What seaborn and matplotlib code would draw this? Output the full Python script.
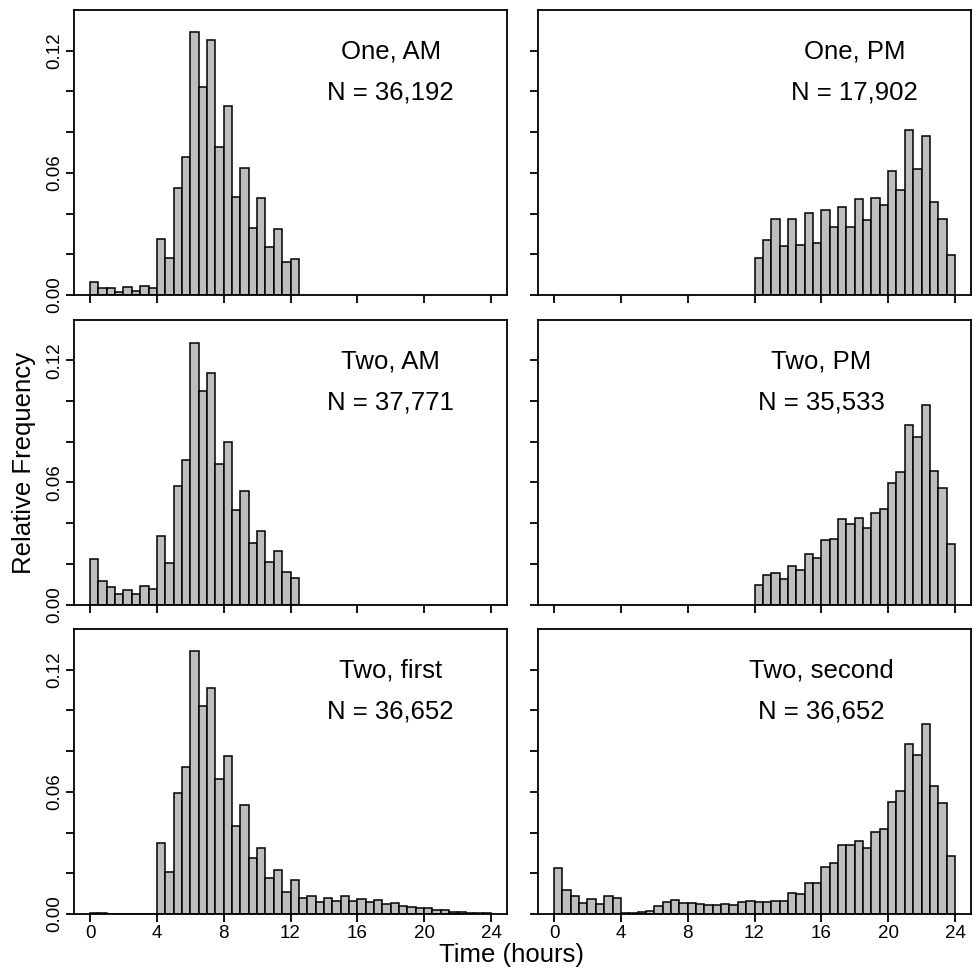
import numpy as np
import pandas as pd
import matplotlib
matplotlib.use("Agg")
import matplotlib.pyplot as plt
import seaborn as sns

# ---------------- data (relative frequency per half-hour bin) ----------------
panel_titles = ["One, AM", "One, PM", "Two, AM", "Two, PM", "Two, first", "Two, second"]
panel_n = ["N = 36,192", "N = 17,902", "N = 37,771", "N = 35,533", "N = 36,652", "N = 36,652"]
panel_start = [0.0, 12.0, 0.0, 12.0, 0.0, 0.0]   # first bin edge (hours)
bin_width = 0.5

one_am = [0.0066, 0.0033, 0.0033, 0.0016, 0.0038, 0.0021, 0.0044, 0.0034,
          0.0277, 0.0180, 0.0528, 0.0679, 0.1292, 0.1020, 0.1252, 0.0728,
          0.0926, 0.0480, 0.0626, 0.0331, 0.0475, 0.0234, 0.0325, 0.0164, 0.0179]
one_pm = [0.0184, 0.0270, 0.0375, 0.0239, 0.0372, 0.0244, 0.0402, 0.0257,
          0.0418, 0.0334, 0.0430, 0.0336, 0.0472, 0.0370, 0.0475, 0.0444,
          0.0608, 0.0516, 0.0810, 0.0618, 0.0780, 0.0456, 0.0374, 0.0198]
two_am = [0.0223, 0.0115, 0.0087, 0.0051, 0.0069, 0.0051, 0.0089, 0.0074,
          0.0338, 0.0202, 0.0584, 0.0710, 0.1284, 0.1049, 0.1139, 0.0690,
          0.0798, 0.0466, 0.0557, 0.0302, 0.0362, 0.0211, 0.0264, 0.0162, 0.0128]
two_pm = [0.0098, 0.0143, 0.0156, 0.0123, 0.0190, 0.0170, 0.0246, 0.0228,
          0.0316, 0.0321, 0.0420, 0.0395, 0.0425, 0.0374, 0.0451, 0.0467,
          0.0598, 0.0649, 0.0884, 0.0823, 0.0980, 0.0656, 0.0570, 0.0297]
two_first = [0.0003, 0.0003, 0.0001, 0.0000, 0.0002, 0.0002, 0.0002, 0.0002,
             0.0349, 0.0208, 0.0595, 0.0723, 0.1292, 0.1023, 0.1108, 0.0662,
             0.0775, 0.0433, 0.0534, 0.0274, 0.0326, 0.0175, 0.0215, 0.0107,
             0.0167, 0.0080, 0.0089, 0.0059, 0.0080, 0.0066, 0.0087, 0.0066,
             0.0072, 0.0057, 0.0067, 0.0048, 0.0052, 0.0038, 0.0034, 0.0031,
             0.0030, 0.0021, 0.0018, 0.0011, 0.0010, 0.0007, 0.0005, 0.0003]
two_second = [0.0228, 0.0118, 0.0087, 0.0054, 0.0072, 0.0051, 0.0090, 0.0080,
              0.0003, 0.0005, 0.0010, 0.0016, 0.0039, 0.0061, 0.0070, 0.0054,
              0.0054, 0.0051, 0.0046, 0.0043, 0.0049, 0.0044, 0.0057, 0.0062,
              0.0057, 0.0057, 0.0062, 0.0062, 0.0105, 0.0100, 0.0151, 0.0154,
              0.0233, 0.0252, 0.0338, 0.0338, 0.0359, 0.0323, 0.0403, 0.0418,
              0.0548, 0.0603, 0.0833, 0.0782, 0.0934, 0.0628, 0.0546, 0.0287]
panel_values = [one_am, one_pm, two_am, two_pm, two_first, two_second]
text_x = [18, 18, 18, 16, 18, 16]

x_ticks = [0, 4, 8, 12, 16, 20, 24]
y_ticks = [0.00, 0.02, 0.04, 0.06, 0.08, 0.10, 0.12]
y_tick_labels = ["0.00", "", "", "0.06", "", "", "0.12"]

# ---------------- style ----------------
sns.set_style("ticks")
plt.rcParams['font.family'] = ['Liberation Sans', 'DejaVu Sans']
plt.rcParams['axes.linewidth'] = 1.3
plt.rcParams['text.color'] = 'black'
plt.rcParams['xtick.color'] = 'black'
plt.rcParams['ytick.color'] = 'black'
plt.rcParams['axes.edgecolor'] = 'black'

fig = plt.figure(figsize=(9.74, 9.68), dpi=100)
W, H = 974.0, 968.0
col_left = [74, 538]
row_top = [10, 319.5, 629]
ax_w, ax_h = 433, 285

for i, vals in enumerate(panel_values):
    r, c = divmod(i, 2)
    ax = fig.add_axes([col_left[c] / W, 1 - (row_top[r] + ax_h) / H, ax_w / W, ax_h / H])
    vals = np.asarray(vals, dtype=float)
    lo = panel_start[i]
    hi = lo + bin_width * len(vals)
    centers = lo + bin_width * (np.arange(len(vals)) + 0.5)
    df = pd.DataFrame({"time": centers, "freq": vals})
    sns.histplot(data=df, x="time", weights="freq", binwidth=bin_width,
                 binrange=(lo, hi), stat="count",
                 color="#BEBEBE", edgecolor="black", linewidth=1.1, alpha=1.0,
                 ax=ax)
    ax.set_xlim(-0.96, 24.96)
    ax.set_ylim(0, 0.14)
    ax.set_xticks(x_ticks)
    ax.set_yticks(y_ticks)
    for s in ax.spines.values():
        s.set_visible(True)
        s.set_linewidth(1.3)
        s.set_color("black")
    ax.tick_params(axis="both", direction="out", length=6, width=1.3,
                   colors="black", labelcolor="black", labelsize=13.5, pad=2)
    if c == 0:
        ax.set_yticklabels(y_tick_labels, rotation=90, va="center")
    else:
        ax.set_yticklabels([])
    if r == 2:
        ax.set_xticklabels([str(t) for t in x_ticks])
    else:
        ax.set_xticklabels([])
    ax.set_xlabel("")
    ax.set_ylabel("")
    ax.text(text_x[i], 0.116, panel_titles[i], ha="center", va="baseline",
            fontsize=18.5, color="black")
    ax.text(text_x[i], 0.096, panel_n[i], ha="center", va="baseline",
            fontsize=18.5, color="black")

fig.text(511 / W, 1 - 955 / H, "Time (hours)", ha="center", va="center",
         fontsize=18.5, color="black")
fig.text(24 / W, 1 - 463 / H, "Relative Frequency", ha="center", va="center",
         rotation=90, fontsize=18.5, color="black")

fig.savefig("out.png", dpi=100, facecolor="white")
